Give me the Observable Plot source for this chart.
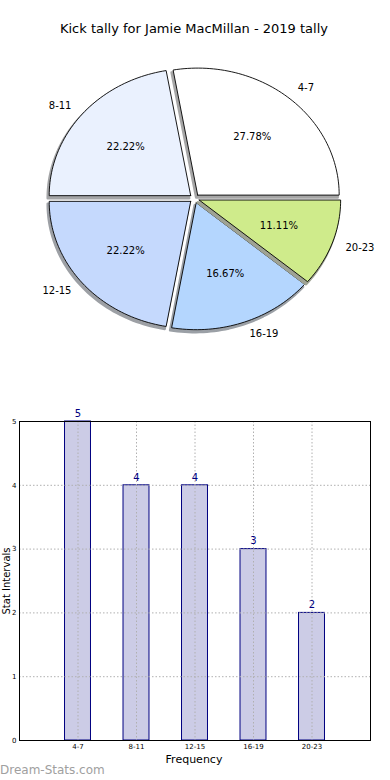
<!DOCTYPE html>
<html>
<head>
<meta charset="utf-8">
<script src="https://cdn.jsdelivr.net/npm/d3@7"></script>
<script src="https://cdn.jsdelivr.net/npm/@observablehq/plot@0.6"></script>
<style>
  html, body { margin: 0; padding: 0; background: #fff; }
  body { width: 390px; height: 780px; overflow: hidden; font-family: "DejaVu Sans", sans-serif; }
  #wrap { position: relative; width: 390px; height: 780px; }
  .abs { position: absolute; white-space: nowrap; }
  #title { left: 0; width: 388px; top: 21px; text-align: center; font-size: 13px; color: #000; }
  #pie { left: 0; top: 0; }
  #bars { left: 0; top: 400px; }
  #xlabel { left: 0; width: 388px; top: 753px; text-align: center; font-size: 11px; color: #000; }
  #ylabel { left: 6px; top: 581px; font-size: 10px; color: #000; transform: translate(-50%, -50%) rotate(-90deg); }
  #mark { left: 0; top: 763px; font-size: 12px; color: #a0a0a0; }
  svg text { font-family: "DejaVu Sans", sans-serif; }
</style>
</head>
<body>
<div id="wrap">
  <div id="pie" class="abs"></div>
  <div id="bars" class="abs"></div>
  <div id="title" class="abs">Kick tally for Jamie MacMillan - 2019 tally</div>
  <div id="xlabel" class="abs">Frequency</div>
  <div id="ylabel" class="abs">Stat Intervals</div>
  <div id="mark" class="abs">Dream-Stats.com</div>
</div>
<script>
// ---- data ----
const categories = ["4-7", "8-11", "12-15", "16-19", "20-23"];
const counts = [5, 4, 4, 3, 2];
const yTicks = [0, 1, 2, 3, 4, 5];

// ---- styles ----
const sliceColors = ["#ffffff", "#eaf1fe", "#c5d9fd", "#b4d6fe", "#cfeb8b"];
const barFill = "#ccccE6";
const barStroke = "#000080";
const explode = 0.035;

// ---- pie geometry (matplotlib-style: start at 0 rad, counter-clockwise) ----
const total = d3.sum(counts);
let cum = 0;
const slices = categories.map((cat, i) => {
  const t1 = cum / total * 2 * Math.PI;
  cum += counts[i];
  const t2 = cum / total * 2 * Math.PI;
  const mid = (t1 + t2) / 2;
  const ox = explode * Math.cos(mid), oy = explode * Math.sin(mid);
  const n = Math.max(4, Math.ceil((t2 - t1) / (Math.PI / 120)));
  const pts = [{x: ox, y: oy}];
  for (let k = 0; k <= n; k++) {
    const a = t1 + (t2 - t1) * k / n;
    pts.push({x: ox + Math.cos(a), y: oy + Math.sin(a)});
  }
  pts.push({x: ox, y: oy});
  const c = d3.rgb(sliceColors[i]);
  const shadow = d3.rgb(127.5 + 0.15 * c.r, 127.5 + 0.15 * c.g, 127.5 + 0.15 * c.b).formatHex();
  return {cat, count: counts[i], mid, ox, oy, pts, color: sliceColors[i], shadow,
          pct: (counts[i] / total * 100).toFixed(2) + "%"};
});

const pieMarks = [];
slices.forEach(s => {
  pieMarks.push(Plot.line(s.pts, {x: "x", y: "y", fill: s.shadow, stroke: s.shadow, strokeWidth: 2.5, dx: -1.5, dy: 2.5}));
  pieMarks.push(Plot.line(s.pts, {x: "x", y: "y", fill: s.color, stroke: "#000", strokeWidth: 0.9, strokeLinejoin: "miter"}));
});
pieMarks.push(Plot.text(slices.filter(s => Math.cos(s.mid) > 0), {
  x: s => s.ox + 1.1 * Math.cos(s.mid), y: s => s.oy + 1.1 * Math.sin(s.mid),
  text: "cat", textAnchor: "start", fontSize: 10, fill: "#000"}));
pieMarks.push(Plot.text(slices.filter(s => Math.cos(s.mid) <= 0), {
  x: s => s.ox + 1.1 * Math.cos(s.mid), y: s => s.oy + 1.1 * Math.sin(s.mid),
  text: "cat", textAnchor: "end", fontSize: 10, fill: "#000"}));
pieMarks.push(Plot.text(slices, {
  x: s => s.ox + 0.6 * Math.cos(s.mid), y: s => s.oy + 0.6 * Math.sin(s.mid),
  text: "pct", fontSize: 10, fill: "#000"}));

const cx = 194, cy = 198, rx = 141.5, ry = 127, W = 390, H = 390;
const pie = Plot.plot({
  width: W, height: H,
  margin: 0,
  x: {domain: [(0 - cx) / rx, (W - cx) / rx], axis: null},
  y: {domain: [(cy - H) / ry, cy / ry], axis: null},
  style: {background: "transparent", fontFamily: "DejaVu Sans"},
  marks: pieMarks
});
document.getElementById("pie").appendChild(pie);

// ---- bar chart ----
const barData = categories.map((c, i) => ({cat: c, count: counts[i]}));
const bars = Plot.plot({
  width: 390, height: 370,
  marginTop: 21, marginBottom: 30, marginLeft: 19, marginRight: 20,
  x: {type: "band", domain: categories, paddingInner: 0.556, paddingOuter: 0.778, round: false, label: null},
  y: {domain: [0, 5], ticks: yTicks, label: null},
  style: {background: "transparent", fontFamily: "DejaVu Sans", color: "#000"},
  marks: [
    Plot.barY(barData, {x: "cat", y: "count", fill: barFill, stroke: barStroke, strokeWidth: 1}),
    Plot.gridY(yTicks, {stroke: "#b0b0b0", strokeOpacity: 1, strokeDasharray: "1.5,2"}),
    Plot.gridX(categories, {stroke: "#b0b0b0", strokeOpacity: 1, strokeDasharray: "1.5,2"}),
    Plot.axisY(yTicks, {tickSize: 0, tickPadding: 3, fontSize: 7, tickFormat: d => String(d), label: null}),
    Plot.axisX(categories, {tickSize: 0, tickPadding: 4, fontSize: 7, label: null}),
    Plot.text(barData, {x: "cat", y: "count", text: d => String(d.count), dy: -8, fill: barStroke, fontSize: 10}),
    Plot.frame({stroke: "#000", strokeWidth: 1})
  ]
});
document.getElementById("bars").appendChild(bars);
</script>
</body>
</html>
